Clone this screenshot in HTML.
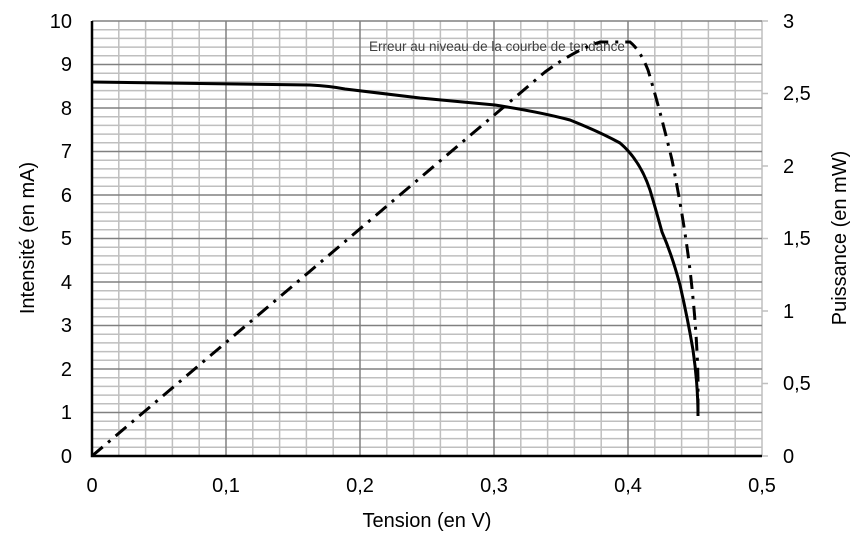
<!DOCTYPE html>
<html><head><meta charset="utf-8"><style>body{margin:0;background:#fff}</style></head>
<body>
<svg width="858" height="537" xmlns="http://www.w3.org/2000/svg" font-family="Liberation Sans, sans-serif">
<g stroke="#bfbfbf" stroke-width="1.5">
<line x1="118.8" y1="21" x2="118.8" y2="456"/><line x1="145.6" y1="21" x2="145.6" y2="456"/><line x1="172.4" y1="21" x2="172.4" y2="456"/><line x1="199.2" y1="21" x2="199.2" y2="456"/>
<line x1="252.8" y1="21" x2="252.8" y2="456"/><line x1="279.6" y1="21" x2="279.6" y2="456"/><line x1="306.4" y1="21" x2="306.4" y2="456"/><line x1="333.2" y1="21" x2="333.2" y2="456"/>
<line x1="386.8" y1="21" x2="386.8" y2="456"/><line x1="413.6" y1="21" x2="413.6" y2="456"/><line x1="440.4" y1="21" x2="440.4" y2="456"/><line x1="467.2" y1="21" x2="467.2" y2="456"/>
<line x1="520.8" y1="21" x2="520.8" y2="456"/><line x1="547.6" y1="21" x2="547.6" y2="456"/><line x1="574.4" y1="21" x2="574.4" y2="456"/><line x1="601.2" y1="21" x2="601.2" y2="456"/>
<line x1="654.8" y1="21" x2="654.8" y2="456"/><line x1="681.6" y1="21" x2="681.6" y2="456"/><line x1="708.4" y1="21" x2="708.4" y2="456"/><line x1="735.2" y1="21" x2="735.2" y2="456"/>
<line x1="762" y1="21" x2="762" y2="456"/>
</g>
<g stroke="#bfbfbf" stroke-width="1.5">
<path d="M92 447.3H762M92 438.6H762M92 429.9H762M92 421.2H762M92 403.8H762M92 395.1H762M92 386.4H762M92 377.7H762M92 360.3H762M92 351.6H762M92 342.9H762M92 334.2H762M92 316.8H762M92 308.1H762M92 299.4H762M92 290.7H762M92 273.3H762M92 264.6H762M92 255.9H762M92 247.2H762M92 229.8H762M92 221.1H762M92 212.4H762M92 203.7H762M92 186.3H762M92 177.6H762M92 168.9H762M92 160.2H762M92 142.8H762M92 134.1H762M92 125.4H762M92 116.7H762M92 99.3H762M92 90.6H762M92 81.9H762M92 73.2H762M92 55.8H762M92 47.1H762M92 38.4H762M92 29.7H762"/>
</g>
<g stroke="#808080" stroke-width="1.5">
<path d="M92 412.5H762M92 369H762M92 325.5H762M92 282H762M92 238.5H762M92 195H762M92 151.5H762M92 108H762M92 64.5H762M92 21H762"/>
<path d="M226 21V456M360 21V456M494 21V456M628 21V456"/>
<path d="M762 456h6M762 383.5h6M762 311h6M762 238.5h6M762 166h6M762 93.5h6M762 21h6" stroke="#bfbfbf"/>
</g>
<path d="M92 21V456H762" stroke="#000" stroke-width="2.5" fill="none"/>
<text x="369" y="51" font-size="13.5" fill="#404040">Erreur au niveau de la courbe de tendance</text>
<path d="M92 82 L310 85 Q330 86 345 89 L420 98 L495 105 Q540 112 570 120 Q600 132 620 143 Q640 160 650 190 Q656 210 662 232 Q672 255 680 285 Q688 320 693 350 Q698 385 698 416" fill="none" stroke="#000" stroke-width="3"/>
<path d="M92 456 L545 72 Q575 50 600 42 L630 42 Q640 50 648 70 Q660 110 672 160 Q684 220 690 270 Q697 330 698 380 L698 416" fill="none" stroke="#000" stroke-width="3" stroke-dasharray="14,7,3,7"/>
<g font-size="20" fill="#000">
<g text-anchor="end"><text x="72" y="463">0</text><text x="72" y="419">1</text><text x="72" y="376">2</text><text x="72" y="332">3</text><text x="72" y="289">4</text><text x="72" y="245">5</text><text x="72" y="202">6</text><text x="72" y="158">7</text><text x="72" y="115">8</text><text x="72" y="71">9</text><text x="72" y="28">10</text></g>
<g text-anchor="start"><text x="783" y="463">0</text><text x="783" y="390">0,5</text><text x="783" y="318">1</text><text x="783" y="245">1,5</text><text x="783" y="173">2</text><text x="783" y="100">2,5</text><text x="783" y="28">3</text></g>
<g text-anchor="middle"><text x="92" y="492">0</text><text x="226" y="492">0,1</text><text x="360" y="492">0,2</text><text x="494" y="492">0,3</text><text x="628" y="492">0,4</text><text x="762" y="492">0,5</text></g>
<text x="427" y="527" text-anchor="middle">Tension  (en V)</text>
<text transform="translate(34 238) rotate(-90)" text-anchor="middle">Intensité  (en mA)</text>
<text transform="translate(846 238) rotate(-90)" text-anchor="middle">Puissance (en mW)</text>
</g>
</svg>
</body></html>
